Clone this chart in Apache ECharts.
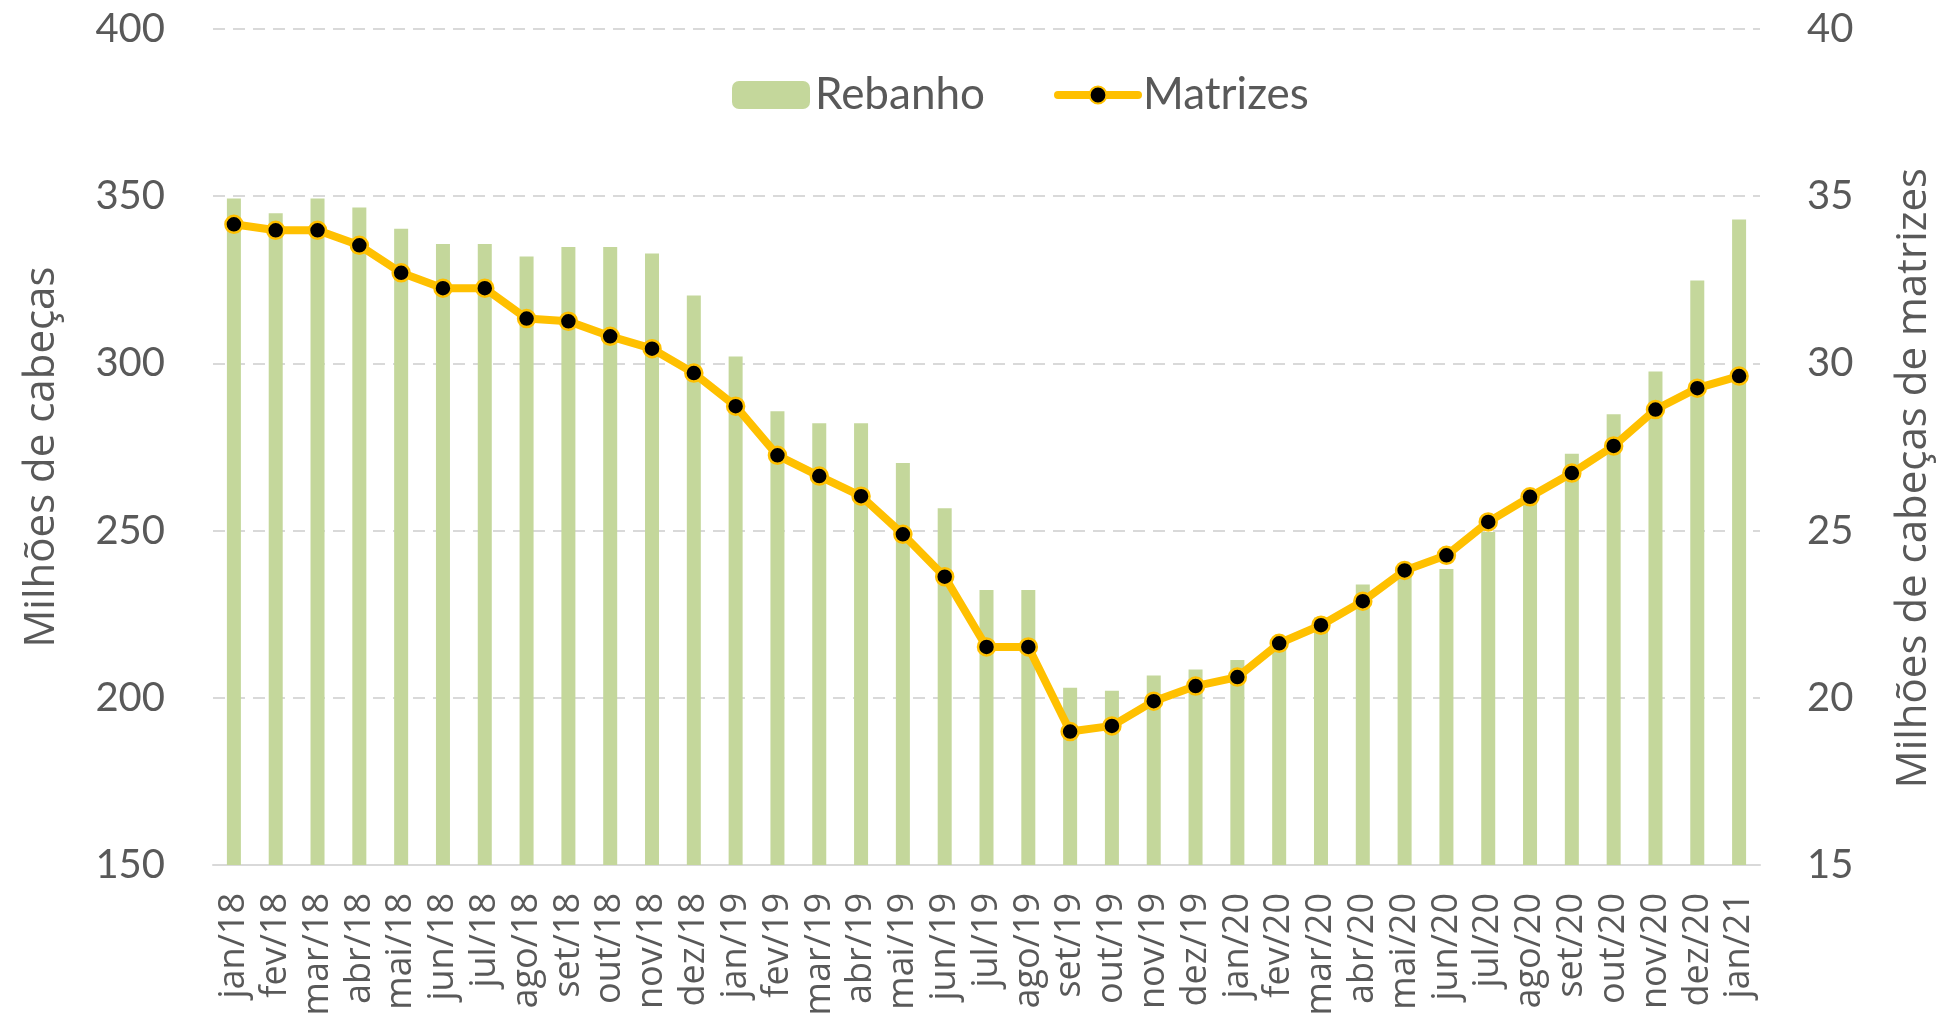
<!DOCTYPE html>
<html>
<head>
<meta charset="utf-8">
<title>Rebanho e Matrizes</title>
<script src="https://cdn.jsdelivr.net/npm/echarts@6/dist/echarts.min.js"></script>
<style>
  html, body { margin: 0; padding: 0; background: #fff; }
  #main { width: 1947px; height: 1016px; }
</style>
</head>
<body>
<div id="main"></div>
<script>
// meses jan/18 .. jan/21
var meses = [
  'jan/18', 'fev/18', 'mar/18', 'abr/18', 'mai/18', 'jun/18', 'jul/18', 'ago/18', 'set/18', 'out/18', 'nov/18', 'dez/18',
  'jan/19', 'fev/19', 'mar/19', 'abr/19', 'mai/19', 'jun/19', 'jul/19', 'ago/19', 'set/19', 'out/19', 'nov/19', 'dez/19',
  'jan/20', 'fev/20', 'mar/20', 'abr/20', 'mai/20', 'jun/20', 'jul/20', 'ago/20', 'set/20', 'out/20', 'nov/20', 'dez/20',
  'jan/21'
]

// Rebanho (milhões de cabeças) - eixo esquerdo
var rebanho = [
  349.3, 344.9, 349.3, 346.6, 340.3, 335.7, 335.7, 332.0, 334.8, 334.8, 332.9, 320.3,
  302.1, 285.7, 282.1, 282.1, 270.2, 256.7, 232.2, 232.2, 203.0, 202.1, 206.7, 208.5,
  211.3, 216.0, 224.0, 233.9, 237.0, 238.5, 249.6, 259.0, 273.0, 284.8, 297.6, 324.8,
  343.0
]

// Matrizes (milhões de cabeças) - eixo direito
var matrizes = [
  34.16, 33.98, 33.98, 33.53, 32.71, 32.25, 32.25, 31.34, 31.26, 30.81, 30.44, 29.71,
  28.72, 27.25, 26.63, 26.03, 24.89, 23.62, 21.52, 21.52, 18.99, 19.16, 19.90, 20.35,
  20.62, 21.63, 22.17, 22.89, 23.81, 24.26, 25.26, 26.01, 26.72, 27.53, 28.62, 29.26,
  29.62
]

var cinza = '#595959'
var numFont = 'Lato'
var txtFont = '"Open Sans"'

var myChart = echarts.init(document.getElementById('main'))

var option = {
  animation: false,
  // rótulos do eixo x vão até a borda, não deixar o grid encolher
  grid: { left: 213, right: 187, top: 29, bottom: 151, outerBoundsMode: 'none' },
  legend: [
    {
      data: ['Rebanho'],
      left: 727,
      top: 68,
      itemWidth: 78,
      itemHeight: 28,
      textStyle: { color: cinza, fontFamily: numFont, fontSize: 44 }
    },
    {
      data: ['Matrizes'],
      left: 1049,
      top: 68,
      itemWidth: 80,
      itemHeight: 21,
      lineStyle: { width: 8, color: '#ffc000', cap: 'round' },
      textStyle: { color: cinza, fontFamily: numFont, fontSize: 44 }
    }
  ],
  xAxis: {
    type: 'category',
    data: meses,
    axisTick: { show: false },
    axisLine: { lineStyle: { color: '#d9d9d9', width: 2 } },
    axisLabel: {
      rotate: 90,
      interval: 0,
      margin: 28,
      color: cinza,
      fontFamily: txtFont,
      fontSize: 36
    }
  },
  yAxis: [
    {
      type: 'value',
      min: 150,
      max: 400,
      interval: 50,
      name: 'Milhões de cabeças',
      nameLocation: 'middle',
      nameGap: 150,
      nameTextStyle: { color: cinza, fontFamily: txtFont, fontSize: 42, padding: [0, 20, 0, 0] },
      axisLine: { show: false },
      axisTick: { show: false },
      axisLabel: { color: cinza, fontFamily: numFont, fontSize: 40, margin: 48 },
      splitLine: { lineStyle: { color: '#d9d9d9', width: 2, type: [12, 8] } }
    },
    {
      type: 'value',
      min: 15,
      max: 40,
      interval: 5,
      name: 'Milhões de cabeças de matrizes',
      nameLocation: 'middle',
      nameRotate: 90,
      nameGap: 133,
      nameTextStyle: { color: cinza, fontFamily: txtFont, fontSize: 42, padding: [0, 62, 0, 0] },
      axisLine: { show: false },
      axisTick: { show: false },
      axisLabel: { color: cinza, fontFamily: numFont, fontSize: 40, margin: 47 },
      splitLine: { show: false }
    }
  ],
  series: [
    {
      name: 'Rebanho',
      type: 'bar',
      data: rebanho,
      barWidth: 14,
      itemStyle: { color: '#c4d79b' }
    },
    {
      name: 'Matrizes',
      type: 'line',
      yAxisIndex: 1,
      data: matrizes,
      symbol: 'circle',
      symbolSize: 17,
      lineStyle: { color: '#ffc000', width: 8 },
      itemStyle: { color: '#000000', borderColor: '#ffc000', borderWidth: 2.5 },
      z: 3
    }
  ]
}

myChart.setOption(option)
</script>
</body>
</html>
